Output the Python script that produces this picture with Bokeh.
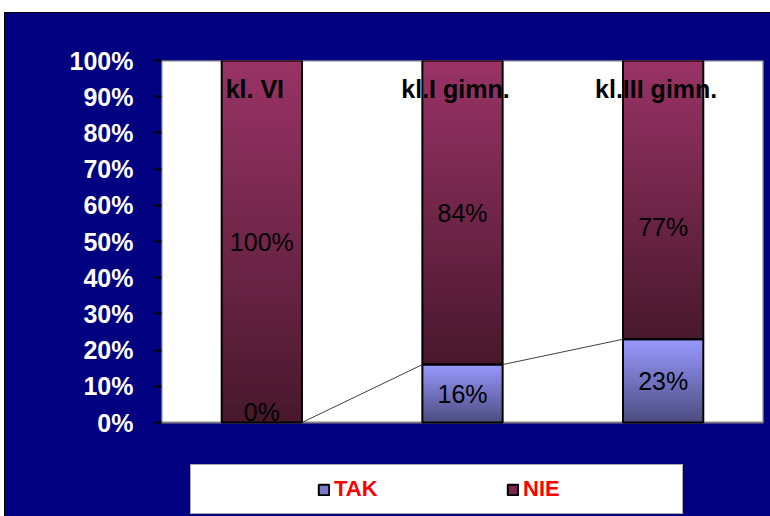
from bokeh.plotting import figure
from bokeh.models import (Range1d, FixedTicker, PrintfTickFormatter, Legend,
                          LegendItem, Spacer)
from bokeh.layouts import column, row
from bokeh.core.properties import value
from bokeh.embed import file_html
from bokeh.resources import INLINE

# ---- data ----
categories = ["kl. VI", "kl.I gimn.", "kl.III gimn."]
tak = [0, 16, 23]
nie = [100, 84, 77]
series_names = ["TAK", "NIE"]
y_ticks = [0, 10, 20, 30, 40, 50, 60, 70, 80, 90, 100]

# ---- layout / style ----
tak_label_y = [3, 8, 11.5]
nie_label_y = [50, 58, 54]
cat_label_y = 92.2
NAVY = "#000080"
FONT = "Liberation Sans"
NIE_TOP, NIE_BOT = (153, 51, 102), (72, 24, 44)
TAK_TOP, TAK_BOT = (153, 153, 255), (76, 76, 128)
BAR_W = 0.4
AREA_PX = 362.0     # height of the white plot area in px
FRAME_PX = 456      # frame extends down to the bottom of the canvas
y_bottom = -100.0 * (FRAME_PX - AREA_PX) / AREA_PX
NAN = float("nan")


def lerp(c1, c2, t):
    return "#%02x%02x%02x" % tuple(int(round(a + (b - a) * t)) for a, b in zip(c1, c2))


p = figure(width=765, height=503, x_range=Range1d(0, 3), y_range=Range1d(y_bottom, 100),
           output_backend="svg", toolbar_location=None,
           min_border_left=156, min_border_right=7, min_border_top=47, min_border_bottom=0,
           styles={"background-color": NAVY, "outline": "1px solid black"})
p.border_fill_color = NAVY
p.background_fill_color = NAVY
p.outline_line_color = None
p.xaxis.visible = False
p.xgrid.visible = False
p.ygrid.visible = False

ax = p.yaxis[0]
ax.ticker = FixedTicker(ticks=y_ticks)
ax.bounds = (0, 100)
ax.formatter = PrintfTickFormatter(format="%d%%")
ax.axis_line_color = None
ax.major_tick_line_color = "black"
ax.major_tick_line_width = 2
ax.major_tick_out = 7
ax.major_tick_in = 0
ax.minor_tick_line_color = None
ax.major_label_text_color = "white"
ax.major_label_text_font = FONT
ax.major_label_text_font_style = "bold"
ax.major_label_text_font_size = "25px"
ax.major_label_standoff = 21

# white plot area
p.quad(left=[0], right=[3], bottom=[0], top=[100], fill_color="white",
       line_color="#808080", line_width=2)

# ---- gradient bars ----
N = 60
L, R, T, B, C = [], [], [], [], []
oL, oR, oT, oB = [], [], [], []
xc = [i + 0.5 for i in range(len(categories))]
for i, x in enumerate(xc):
    segs = [(0, tak[i], TAK_TOP, TAK_BOT), (tak[i], tak[i] + nie[i], NIE_TOP, NIE_BOT)]
    for y0, y1, top, bot in segs:
        if y1 - y0 <= 0:
            continue
        for k in range(N):
            yb = y0 + (y1 - y0) * k / N
            L.append(x - BAR_W / 2)
            R.append(x + BAR_W / 2)
            B.append(yb)
            T.append(y1)
            C.append(lerp(bot, top, (k + 0.5) / N))
        oL.append(x - BAR_W / 2)
        oR.append(x + BAR_W / 2)
        oB.append(y0)
        oT.append(y1)

p.quad(left=L, right=R, top=T, bottom=B, fill_color=C, line_color=None)
p.quad(left=oL, right=oR, top=oT, bottom=oB, fill_color=None, line_color="black", line_width=2)

# series lines between TAK tops
p.segment(x0=[xc[i] + BAR_W / 2 for i in range(len(xc) - 1)],
          y0=tak[:-1],
          x1=[xc[i + 1] - BAR_W / 2 for i in range(len(xc) - 1)],
          y1=tak[1:], line_color="#404040", line_width=1)

# labels
p.text(x=xc, y=[cat_label_y] * len(xc), text=categories, text_font=value(FONT),
       text_font_style="bold", text_font_size="25px", text_align="center",
       text_baseline="middle", x_offset=-7, text_color="black")
p.text(x=xc, y=nie_label_y, text=["%d%%" % v for v in nie], text_font=value(FONT),
       text_font_size="25px", text_align="center", text_baseline="middle", text_color="black")
p.text(x=xc, y=tak_label_y, text=["%d%%" % v for v in tak], text_font=value(FONT),
       text_font_size="25px", text_align="center", text_baseline="middle", text_color="black")

# legend (renderers with no visible marks, used only for the legend swatches)
r_tak = p.quad(left=[NAN], right=[NAN], top=[NAN], bottom=[NAN],
               fill_color=lerp(TAK_BOT, TAK_TOP, 0.6), line_color="black", line_width=2)
r_nie = p.quad(left=[NAN], right=[NAN], top=[NAN], bottom=[NAN],
               fill_color=lerp(NIE_BOT, NIE_TOP, 0.6), line_color="black", line_width=2)
legend = Legend(items=[LegendItem(label=series_names[0], renderers=[r_tak]),
                       LegendItem(label=series_names[1], renderers=[r_nie])],
                orientation="horizontal", location=(29, 2), padding=11, spacing=24,
                label_standoff=4, glyph_width=13, glyph_height=13, label_width=148,
                label_height=20, label_text_font=FONT,
                label_text_font_style="bold",
                label_text_font_size="22px", label_text_color="#ff0000",
                border_line_color="#555555", border_line_width=1.5,
                background_fill_color="white", background_fill_alpha=1.0,
                title=" ", title_location="left", title_standoff=91,
                title_text_font_size="21px")
p.add_layout(legend, "center")

layout = column(Spacer(width=770, height=13), row(Spacer(width=5, height=503), p))
open("out.html", "w").write(file_html(layout, INLINE))
